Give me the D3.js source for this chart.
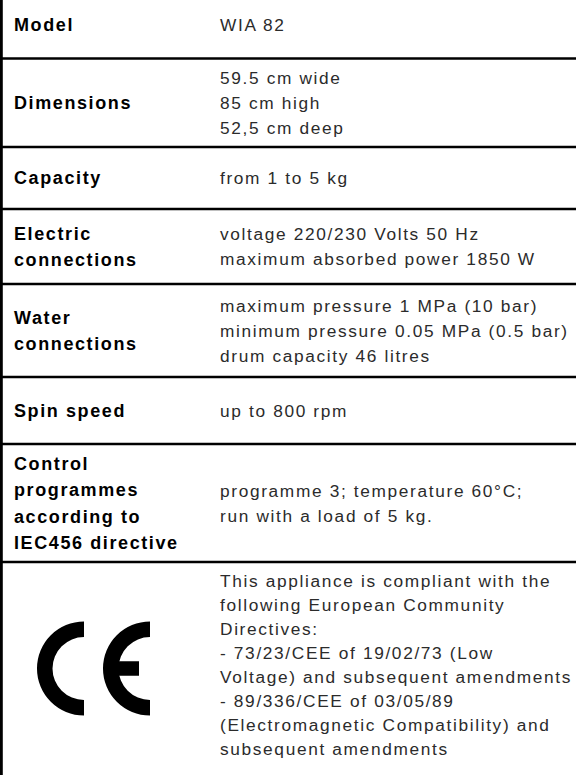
<!DOCTYPE html>
<html>
<head>
<meta charset="utf-8">
<script src="https://cdn.jsdelivr.net/npm/d3@7"></script>
<style>
  body { margin: 0; background: #fff; }
  #chart svg { display: block; }
</style>
</head>
<body>
<div id="chart"></div>
<script>
// table contents
var labels = [
  ["Model"],
  ["Dimensions"],
  ["Capacity"],
  ["Electric", "connections"],
  ["Water", "connections"],
  ["Spin speed"],
  ["Control", "programmes", "according to", "IEC456 directive"],
  []
];
var values = [
  ["WIA 82"],
  ["59.5 cm wide", "85 cm high", "52,5 cm deep"],
  ["from 1 to 5 kg"],
  ["voltage 220/230 Volts 50 Hz", "maximum absorbed power 1850 W"],
  ["maximum pressure 1 MPa (10 bar)", "minimum pressure 0.05 MPa (0.5 bar)", "drum capacity 46 litres"],
  ["up to 800 rpm"],
  ["programme 3; temperature 60°C;", "run with a load of 5 kg."],
  ["This appliance is compliant with the", "following European Community", "Directives:",
   "- 73/23/CEE of 19/02/73 (Low", "Voltage) and subsequent amendments",
   "- 89/336/CEE of 03/05/89", "(Electromagnetic Compatibility) and", "subsequent amendments"]
];
var ceMark = ["C", "E"];   // last row carries the CE logo

var width = 576, height = 775;
// row borders (layout), first row starts a bit above the page edge
var rowEdges = [-9, 58.5, 147, 209, 284, 377, 444, 562, 775];

var labelX = 14, valueX = 220;
var labelSize = 18, valueSize = 17.3;

document.getElementById("chart").innerHTML = "";
var svg = d3.select("#chart").append("svg")
  .attr("width", width)
  .attr("height", height);

var rows = svg.selectAll("g.row")
  .data(values.map(function(v, i) { return { label: labels[i], value: v, i: i }; }))
  .enter()
  .append("g")
  .attr("class", "row");

function firstBaseline(d, n, lh, size) {
  var mid = (rowEdges[d.i] + rowEdges[d.i + 1]) / 2;
  return mid - (n - 1) * lh / 2 + size * 0.36;
}

// labels
rows.each(function(d) {
  var lh = 26.5;
  var y0 = firstBaseline(d, d.label.length, lh, labelSize);
  d3.select(this).selectAll("text.label")
    .data(d.label)
    .enter()
    .append("text")
    .attr("class", "label")
    .attr("x", labelX)
    .attr("y", function(t, k) { return y0 + k * lh; })
    .attr("font-family", "'Liberation Sans', Arial, sans-serif")
    .attr("font-weight", "bold")
    .attr("font-size", labelSize)
    .attr("letter-spacing", 1.6)
    .attr("fill", "#000")
    .text(function(t) { return t; });
});

// values
rows.each(function(d) {
  var lh = d.value.length > 4 ? 24 : 25.2;
  var y0 = firstBaseline(d, d.value.length, lh, valueSize);
  if (d.value.length > 4) y0 -= 4;
  d3.select(this).selectAll("text.value")
    .data(d.value)
    .enter()
    .append("text")
    .attr("class", "value")
    .attr("x", valueX)
    .attr("y", function(t, k) { return y0 + k * lh; })
    .attr("font-family", "'Liberation Sans', Arial, sans-serif")
    .attr("font-size", valueSize)
    .attr("letter-spacing", 1.65)
    .attr("fill", "#2b2b2b")
    .text(function(t) { return t; });
});

// horizontal rules between rows
svg.selectAll("line.rule")
  .data(rowEdges.slice(1, rowEdges.length - 1))
  .enter()
  .append("line")
  .attr("class", "rule")
  .attr("x1", 0).attr("x2", width)
  .attr("y1", function(y) { return y; })
  .attr("y2", function(y) { return y; })
  .attr("stroke", "#000")
  .attr("stroke-width", 2.6);

// left border
svg.append("line")
  .attr("x1", 1.4).attr("x2", 1.4)
  .attr("y1", 0).attr("y2", height)
  .attr("stroke", "#000")
  .attr("stroke-width", 2.8);

// CE logo: two rings cut vertically through their centre
var R = 47, stroke = 15.5;
var cy = (rowEdges[7] + rowEdges[8]) / 2;
var centres = [84, 150];
var ring = d3.arc().innerRadius(R - stroke).outerRadius(R).startAngle(0).endAngle(2 * Math.PI);
var defs = svg.append("defs");

var logo = svg.append("g").attr("class", "ce");
ceMark.forEach(function(letter, i) {
  var cx = centres[i];
  // clip in the letter's own (translated) space: keep only the left half
  defs.append("clipPath").attr("id", "clip" + letter)
    .append("rect")
    .attr("x", -R - 1).attr("y", -R - 1)
    .attr("width", R + 1).attr("height", 2 * R + 2);
  var g = logo.append("g")
    .attr("transform", "translate(" + cx + "," + cy + ")");
  g.append("path")
    .attr("d", ring)
    .attr("clip-path", "url(#clip" + letter + ")")
    .attr("fill", "#000");
  if (letter === "E") {
    g.append("rect")
      .attr("x", -R + stroke - 1)
      .attr("y", -stroke / 2 + 0.5)
      .attr("width", R - stroke - 10)
      .attr("height", stroke - 1)
      .attr("fill", "#000");
  }
});
</script>
</body>
</html>
